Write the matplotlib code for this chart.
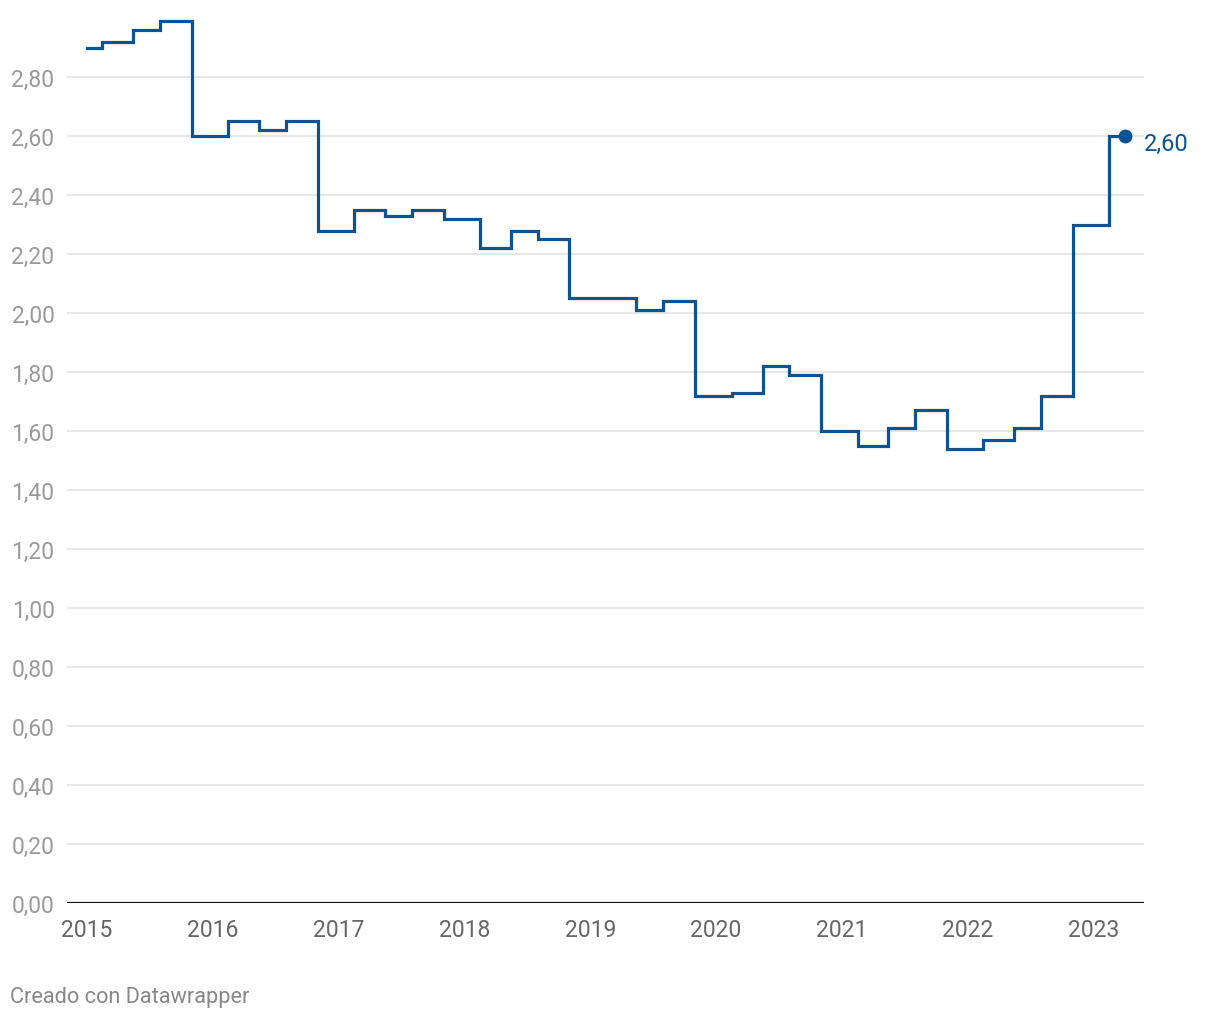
import matplotlib
matplotlib.use("Agg")
import matplotlib.pyplot as plt
import matplotlib.dates as mdates
import pandas as pd

# fechas de publicación y valores (escalón "post")
fechas = [
    "2015-01-01", "2015-02-15", "2015-05-15", "2015-08-01", "2015-11-01",
    "2016-02-15", "2016-05-15", "2016-08-01", "2016-11-01",
    "2017-02-15", "2017-05-15", "2017-08-01", "2017-11-01",
    "2018-02-15", "2018-05-15", "2018-08-01", "2018-11-01",
    "2019-02-15", "2019-05-15", "2019-08-01", "2019-11-01",
    "2020-02-15", "2020-05-15", "2020-08-01", "2020-11-01",
    "2021-02-15", "2021-05-15", "2021-08-01", "2021-11-01",
    "2022-02-15", "2022-05-15", "2022-08-01", "2022-11-01",
    "2023-02-15", "2023-04-01",
]
valores = [
    2.90, 2.92, 2.96, 2.99, 2.60,
    2.65, 2.62, 2.65, 2.28,
    2.35, 2.33, 2.35, 2.32,
    2.22, 2.28, 2.25, 2.05,
    2.05, 2.01, 2.04, 1.72,
    1.73, 1.82, 1.79, 1.60,
    1.55, 1.61, 1.67, 1.54,
    1.57, 1.61, 1.72, 2.30,
    2.60, 2.60,
]
anios = [str(a) for a in range(2015, 2024)]
y_ticks = [i * 0.2 for i in range(15)]

azul = "#0b5394"
plt.rcParams["font.family"] = ["Roboto", "DejaVu Sans"]

x = mdates.date2num(pd.to_datetime(fechas))

fig = plt.figure(figsize=(12.2, 10.2), dpi=100)
ax = fig.add_axes([0.0549, 0.1137, 0.8828, 0.8713])

ax.step(x, valores, where="post", color=azul, lw=2.3, solid_joinstyle="miter", zorder=3)
ax.plot(x[-1], valores[-1], "o", color=azul, ms=9, zorder=4)
ax.annotate(f"{valores[-1]:.2f}".replace(".", ","), (x[-1], valores[-1]),
            xytext=(14, -5), textcoords="offset points", va="center", ha="left",
            color=azul, fontsize=17)

xt = mdates.date2num(pd.to_datetime([a + "-01-01" for a in anios]))
ax.set_xticks(xt)
ax.set_xticklabels(anios)
ax.set_xlim(xt[0] - 58, xt[-1] + 146)

ax.set_yticks(y_ticks)
ax.set_yticklabels([f"{v:.2f}".replace(".", ",") for v in y_ticks])
ax.set_ylim(0, 3.013)

ax.grid(axis="y", color="#e0e0e0", lw=1.1, zorder=0)
ax.axhline(0, color="#111111", lw=1.6, zorder=2)
for s in ax.spines.values():
    s.set_visible(False)

ax.tick_params(axis="x", length=0, pad=11, labelsize=16.5, labelcolor="#666666")
ax.tick_params(axis="y", length=0, pad=9, labelsize=16.5, labelcolor="#9a9a9a")

fig.text(0.0082, 0.017, "Creado con Datawrapper", color="#888888", fontsize=15.7,
         ha="left", va="baseline")

fig.savefig("out.png", dpi=100, facecolor="white")
